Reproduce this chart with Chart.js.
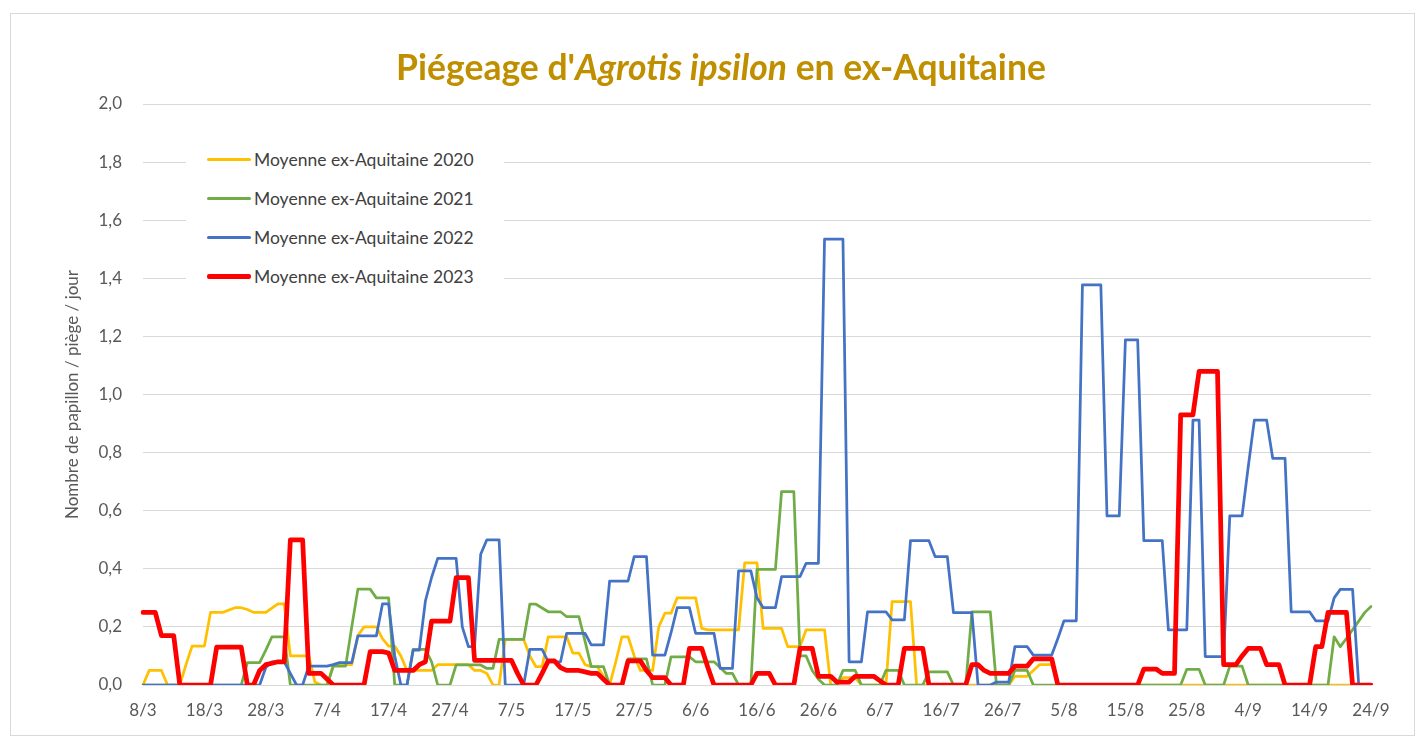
<!DOCTYPE html>
<html>
<head>
<meta charset="utf-8">
<script src="https://cdn.jsdelivr.net/npm/chart.js@4.4.0/dist/chart.umd.min.js"></script>
<style>
  html, body { margin: 0; padding: 0; background: #ffffff; }
  #wrap { position: relative; width: 1426px; height: 749px; overflow: hidden; background: #ffffff; }
  #frame { position: absolute; left: 10px; top: 13px; width: 1405px; height: 723px; border: 1px solid #d9d9d9; box-sizing: border-box; }
  #chart { position: absolute; left: 0; top: 0; }
  #title { position: absolute; left: 8px; top: 45px; width: 1426px; text-align: center;
           font-family: Lato, 'Open Sans', sans-serif; font-weight: bold; font-size: 35.5px; color: #BF8F00; }
  #legend { position: absolute; left: 186px; top: 140px; width: 318px; height: 156px; background: #ffffff; }
  .item { position: absolute; left: 21px; height: 20px; display: flex; align-items: center;
          font-family: Lato, sans-serif; font-size: 17.5px; color: #404040; white-space: nowrap; }
  .swatch { width: 44px; margin-right: 3px; border-radius: 2px; }
</style>
</head>
<body>
<div id="wrap">
  <div id="frame"></div>
  <canvas id="chart" width="1426" height="749"></canvas>
  <div id="title">Piégeage d'<i>Agrotis ipsilon</i> en ex-Aquitaine</div>
  <div id="legend"></div>
</div>
<script>
// ---------- DATA ----------
const xTickLabels = ['8/3','18/3','28/3','7/4','17/4','27/4','7/5','17/5','27/5','6/6','16/6','26/6','6/7','16/7','26/7','5/8','15/8','25/8','4/9','14/9','24/9'];

// daily categories from 8/3 to 24/9
const categories = [];
for (let i = 0; i < 201; i++) {
  const d = new Date(2023, 2, 8 + i);
  categories.push(d.getDate() + '/' + (d.getMonth() + 1));
}

const seriesNames = ['Moyenne ex-Aquitaine 2020','Moyenne ex-Aquitaine 2021','Moyenne ex-Aquitaine 2022','Moyenne ex-Aquitaine 2023'];

const moy2020 = [
  0,0.05,0.05,0.05,0,0,0,0.07,0.134,0.134,
  0.134,0.25,0.25,0.25,0.258,0.266,0.266,0.26,0.25,0.25,
  0.25,0.265,0.279,0.279,0.1,0.1,0.1,0.1,0.01,0,
  0,0.07,0.07,0.07,0.07,0.17,0.2,0.2,0.2,0.16,
  0.134,0.134,0.1,0.05,0.05,0.05,0.05,0.05,0.07,0.07,
  0.07,0.07,0.07,0.07,0.05,0.05,0.04,0,0,0.157,
  0.157,0.157,0.157,0.1,0.063,0.063,0.166,0.166,0.166,0.166,
  0.11,0.11,0.07,0.063,0.063,0.03,0,0.08,0.166,0.166,
  0.1,0.05,0.05,0.05,0.2,0.247,0.247,0.3,0.3,0.3,
  0.3,0.195,0.19,0.19,0.19,0.19,0.19,0.19,0.42,0.42,
  0.42,0.195,0.195,0.195,0.195,0.132,0.132,0.132,0.19,0.19,
  0.19,0.19,0,0,0.025,0.025,0.025,0,0,0,
  0,0,0.287,0.287,0.287,0.287,0,0,0,0,
  0,0,0,0,0,0,0,0,0,0,
  0,0,0.03,0.03,0.03,0.05,0.07,0.07,0.07,0,
  0,0,0,0,0,0,0,0,0,0,
  0,0,0,0,0,0,0,0,0,0,
  0,0,0,0,0,0,0,0,0,0,
  0,0,0,0,0,0,0,0,0,0,
  0,0,0,0,0,0,0,0,0,0,
  0
];

const moy2021 = [
  0,0,0,0,0,0,0,0,0,0,
  0,0,0,0,0,0,0,0.077,0.077,0.077,
  0.12,0.166,0.166,0.166,0,0,0,0,0,0,
  0,0.065,0.065,0.065,0.2,0.33,0.33,0.33,0.3,0.3,
  0.3,0,0,0,0.123,0.123,0.123,0.08,0,0,
  0,0.069,0.069,0.069,0.069,0.069,0.057,0.057,0.157,0.157,
  0.157,0.157,0.157,0.278,0.278,0.265,0.252,0.252,0.252,0.235,
  0.235,0.235,0.15,0.063,0.063,0.063,0,0,0,0.09,
  0.09,0.09,0.09,0,0,0,0.097,0.097,0.097,0.097,
  0.08,0.08,0.08,0.08,0.06,0.04,0.04,0,0,0,
  0.398,0.398,0.398,0.398,0.666,0.666,0.666,0.1,0.1,0.05,
  0.02,0,0,0,0.05,0.05,0.05,0,0,0,
  0,0.05,0.05,0.05,0,0,0,0,0.045,0.045,
  0.045,0.045,0,0,0,0.252,0.252,0.252,0.252,0,
  0,0,0.05,0.05,0.05,0,0,0,0,0,
  0,0,0,0,0,0,0,0,0,0,
  0,0,0,0,0,0,0,0,0,0,
  0.054,0.054,0.054,0,0,0,0,0.065,0.065,0.065,
  0,0,0,0,0,0,0,0,0,0,
  0,0,0,0,0.166,0.132,0.16,0.19,0.22,0.25,
  0.27
];

const moy2022 = [
  0,0,0,0,0,0,0,0,0,0,
  0,0,0,0,0,0,0,0,0,0,
  0.06,0.08,0.08,0.08,0.04,0,0,0.065,0.065,0.065,
  0.065,0.07,0.077,0.077,0.077,0.169,0.169,0.169,0.169,0.279,
  0.279,0.1,0,0,0.12,0.12,0.29,0.37,0.436,0.436,
  0.436,0.436,0.2,0.132,0.132,0.45,0.5,0.5,0.5,0,
  0,0,0,0.123,0.123,0.123,0.08,0.08,0.08,0.178,
  0.178,0.178,0.178,0.138,0.138,0.138,0.358,0.358,0.358,0.358,
  0.442,0.442,0.442,0.103,0.103,0.103,0.18,0.266,0.266,0.266,
  0.178,0.178,0.178,0.178,0.057,0.057,0.057,0.393,0.393,0.393,
  0.3,0.266,0.266,0.266,0.373,0.373,0.373,0.373,0.419,0.419,
  0.419,1.535,1.535,1.535,1.535,0.08,0.08,0.08,0.252,0.252,
  0.252,0.252,0.224,0.224,0.224,0.497,0.497,0.497,0.497,0.442,
  0.442,0.442,0.249,0.249,0.249,0.249,0,0,0,0.01,
  0.01,0.01,0.132,0.132,0.132,0.103,0.103,0.103,0.103,0.16,
  0.221,0.221,0.221,1.377,1.377,1.377,1.377,0.582,0.582,0.582,
  1.188,1.188,1.188,0.497,0.497,0.497,0.497,0.19,0.19,0.19,
  0.19,0.912,0.912,0.098,0.098,0.098,0.098,0.582,0.582,0.582,
  0.75,0.912,0.912,0.912,0.78,0.78,0.78,0.252,0.252,0.252,
  0.252,0.221,0.221,0.221,0.3,0.329,0.329,0.329,0,0,
  0
];

const moy2023 = [
  0.25,0.25,0.25,0.17,0.17,0.17,0,0,0,0,
  0,0,0.13,0.13,0.13,0.13,0.13,0,0,0.05,
  0.07,0.075,0.08,0.08,0.5,0.5,0.5,0.04,0.04,0.04,
  0.02,0,0,0,0,0,0,0.115,0.115,0.115,
  0.11,0.05,0.05,0.05,0.05,0.07,0.08,0.22,0.22,0.22,
  0.22,0.37,0.37,0.37,0.085,0.085,0.085,0.085,0.085,0.085,
  0.085,0.04,0,0,0,0.04,0.083,0.083,0.06,0.05,
  0.05,0.05,0.045,0.04,0.04,0.02,0,0,0,0.083,
  0.083,0.083,0.05,0.025,0.025,0.025,0,0,0,0.126,
  0.126,0.126,0.06,0,0,0,0,0,0,0,
  0.04,0.04,0.04,0,0,0,0,0.126,0.126,0.126,
  0.03,0.03,0.03,0.01,0.01,0.01,0.03,0.03,0.03,0.03,
  0.015,0,0,0,0.126,0.126,0.126,0.126,0,0,
  0,0,0,0,0,0.07,0.07,0.05,0.04,0.04,
  0.04,0.04,0.065,0.065,0.065,0.09,0.09,0.09,0.09,0,
  0,0,0,0,0,0,0,0,0,0,
  0,0,0,0.055,0.055,0.055,0.04,0.04,0.04,0.93,
  0.93,0.93,1.08,1.08,1.08,1.08,0.07,0.07,0.07,0.1,
  0.126,0.126,0.126,0.07,0.07,0.07,0,0,0,0,
  0,0.132,0.132,0.25,0.25,0.25,0.25,0,0,0,
  0
];

const seriesColors = ['#FFC000', '#70AD47', '#4472C4', '#FF0000'];
const seriesWidths = [2.75, 2.75, 2.75, 4.75];
const seriesData = [moy2020, moy2021, moy2022, moy2023];

// ---------- LEGEND (HTML) ----------
const legendEl = document.getElementById('legend');
seriesNames.forEach((name, i) => {
  const item = document.createElement('div');
  item.className = 'item';
  item.style.top = (9 + i * 39) + 'px';
  const sw = document.createElement('span');
  sw.className = 'swatch';
  sw.style.background = seriesColors[i];
  sw.style.height = (i === 3 ? 5 : 3) + 'px';
  item.appendChild(sw);
  const tx = document.createElement('span');
  tx.textContent = name;
  item.appendChild(tx);
  legendEl.appendChild(item);
});

// ---------- CHART ----------
const ctx = document.getElementById('chart').getContext('2d');
new Chart(ctx, {
  type: 'line',
  data: {
    labels: categories,
    datasets: seriesNames.map((name, i) => ({
      label: name,
      data: seriesData[i],
      borderColor: seriesColors[i],
      backgroundColor: seriesColors[i],
      borderWidth: seriesWidths[i],
      pointRadius: 0,
      tension: 0,
      fill: false,
      borderJoinStyle: 'round',
      borderCapStyle: 'round',
      order: 4 - i
    }))
  },
  options: {
    responsive: false,
    animation: false,
    layout: { padding: { top: 104, right: 55, left: 0, bottom: 0 } },
    plugins: {
      legend: { display: false },
      title: { display: false },
      tooltip: { enabled: false }
    },
    scales: {
      x: {
        type: 'category',
        offset: false,
        grid: { display: false, drawTicks: false },
        border: { display: true, color: '#d9d9d9', width: 1 },
        ticks: {
          autoSkip: false,
          maxRotation: 0,
          minRotation: 0,
          padding: 15,
          color: '#595959',
          font: { family: 'Lato', size: 17 },
          callback: function (v) {
            const l = this.getLabelForValue(v);
            return xTickLabels.includes(l) ? l : null;
          }
        },
        afterFit: (s) => { s.height = 64; }
      },
      y: {
        min: 0,
        max: 2,
        grid: { color: '#d9d9d9', lineWidth: 1, drawTicks: false },
        border: { display: false },
        ticks: {
          stepSize: 0.2,
          padding: 21,
          color: '#595959',
          font: { family: 'Lato', size: 17 },
          callback: (v) => v.toFixed(1).replace('.', ',')
        },
        title: {
          display: true,
          text: 'Nombre de papillon / piège / jour',
          color: '#595959',
          font: { family: 'Lato', size: 17 },
          padding: { top: 62, bottom: 0 }
        },
        afterFit: (s) => { s.width = 143; }
      }
    }
  }
});
</script>
</body>
</html>
